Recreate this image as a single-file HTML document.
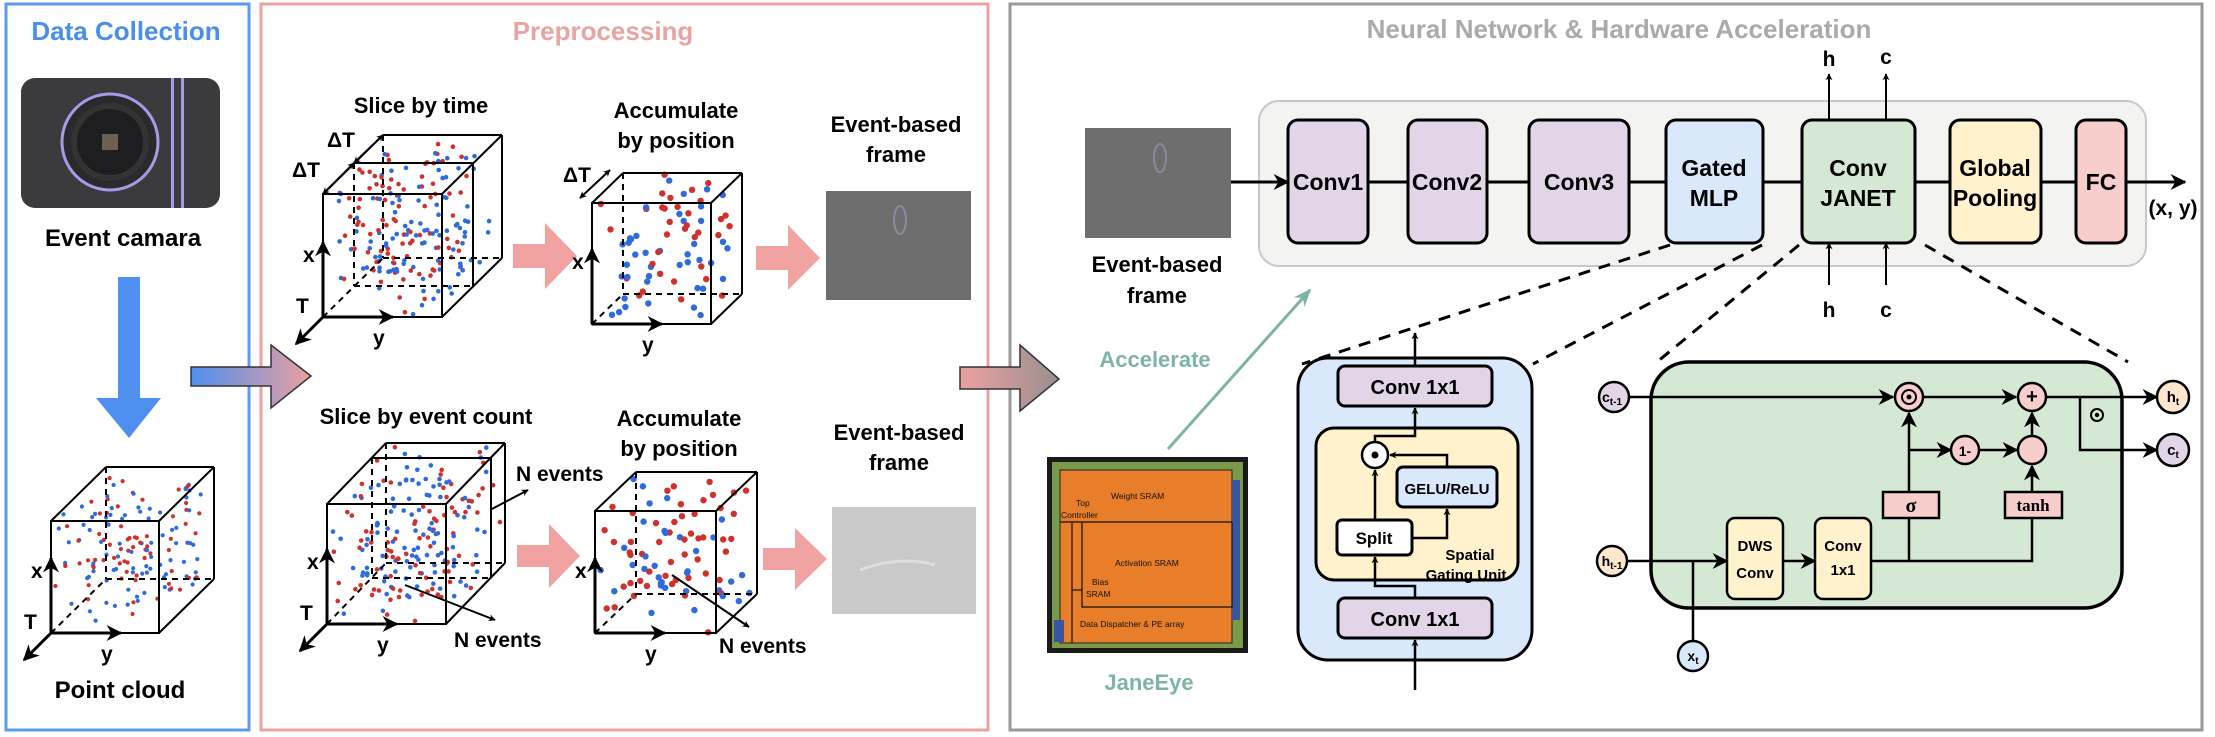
<!DOCTYPE html>
<html><head><meta charset="utf-8"><style>
html,body{margin:0;padding:0;background:#fff;}
svg{display:block;font-family:"Liberation Sans",sans-serif;font-weight:bold;}
</style></head><body>
<svg id="s" width="2215" height="737" viewBox="0 0 2215 737" xmlns="http://www.w3.org/2000/svg">
<defs>
<marker id="ah" viewBox="0 0 10 10" refX="9" refY="5" markerWidth="7" markerHeight="7" orient="auto-start-reverse" markerUnits="userSpaceOnUse"><path d="M0,0 L10,5 L0,10 L3,5 z" fill="#000"/></marker>
<marker id="ab" viewBox="0 0 10 10" refX="9" refY="5" markerWidth="16" markerHeight="16" orient="auto" markerUnits="userSpaceOnUse"><path d="M0,0 L10,5 L0,10 L3,5 z" fill="#000"/></marker>
<marker id="ag" viewBox="0 0 10 10" refX="9" refY="5" markerWidth="18" markerHeight="18" orient="auto" markerUnits="userSpaceOnUse"><path d="M0,1 L10,5 L0,9 L3,5 z" fill="#7fb3a8"/></marker>
<linearGradient id="g1" x1="0" x2="1"><stop offset="0" stop-color="#4f8ff0"/><stop offset="1" stop-color="#eaa0a0"/></linearGradient>
<linearGradient id="g2" x1="0" x2="1"><stop offset="0" stop-color="#eba1a1"/><stop offset="1" stop-color="#9a8f8f"/></linearGradient>
</defs>

<!-- panels -->
<rect x="6" y="4" width="243" height="726" fill="none" stroke="#5b9bef" stroke-width="3"/>
<rect x="261" y="4" width="727" height="726" fill="none" stroke="#eaa3a3" stroke-width="3"/>
<rect x="1010" y="4" width="1192" height="726" fill="none" stroke="#999" stroke-width="3"/>
<text x="126" y="40" font-size="26" fill="#4a8fe8" text-anchor="middle">Data Collection</text>
<text x="603" y="40" font-size="26" fill="#eaa3a3" text-anchor="middle">Preprocessing</text>
<text x="1619" y="38" font-size="26" fill="#aaa" text-anchor="middle">Neural Network &amp; Hardware Acceleration</text>

<!-- camera -->
<rect x="21" y="78" width="199" height="130" rx="14" fill="#3b3b3e"/>
<circle cx="110" cy="142" r="48" fill="#2a2a2c" stroke="#a79ae6" stroke-width="3"/>
<circle cx="110" cy="142" r="36" fill="#1e1e20" stroke="#333" stroke-width="6"/>
<rect x="102" y="134" width="16" height="16" fill="#6b6150"/>
<rect x="171" y="78" width="3" height="130" fill="#a79ae6"/>
<rect x="181" y="78" width="3" height="130" fill="#a79ae6"/>
<text x="123" y="246" font-size="24" text-anchor="middle">Event camara</text>
<!-- blue arrow -->
<path d="M118,277 H140 V398 H161 L129,438 L96,398 H118 Z" fill="#4f8ff0"/>
<text x="120" y="698" font-size="24" text-anchor="middle">Point cloud</text>

<!-- gradient arrows -->
<path d="M191,367 H271 V345 L311,376 L271,408 V386 H191 Z" fill="url(#g1)" stroke="#333" stroke-width="1.5"/>
<path d="M960,367 H1020 V345 L1059,379 L1020,411 V389 H960 Z" fill="url(#g2)" stroke="#333" stroke-width="1.5"/>

<!-- pink arrows -->
<g fill="#f0a3a0">
<path d="M513,244 H545 V223 L577,256 L545,289 V268 H513 Z"/>
<path d="M756,246 H788 V225 L820,258 L788,290 V270 H756 Z"/>
<path d="M517,545 H549 V524 L580,556 L549,588 V567 H517 Z"/>
<path d="M763,548 H795 V528 L827,559 L795,590 V570 H763 Z"/>
</g>

<g id="cubes"></g>

<g font-size="22" text-anchor="middle">
<text x="421" y="113">Slice by time</text>
<text x="676" y="118">Accumulate</text><text x="676" y="148">by position</text>
<text x="896" y="132">Event-based</text><text x="896" y="162">frame</text>
<text x="426" y="424">Slice by event count</text>
<text x="679" y="426">Accumulate</text><text x="679" y="456">by position</text>
<text x="899" y="440">Event-based</text><text x="899" y="470">frame</text>
</g>
<g font-size="21">
<text x="516" y="481">N events</text>
<text x="454" y="647">N events</text>
<text x="719" y="653">N events</text>
</g>
<rect x="826" y="191" width="145" height="109" fill="#6e6e6e"/>
<ellipse cx="900" cy="220" rx="6" ry="14" fill="none" stroke="#8a8aa0" stroke-width="2"/>
<rect x="832" y="507" width="144" height="107" fill="#c9c9c9"/>
<path d="M860,570 Q900,555 935,565" stroke="#ddd" stroke-width="3" fill="none"/>

<!-- NN section -->
<rect x="1259" y="101" width="887" height="165" rx="20" fill="#f3f4f2" stroke="#c8c8c8" stroke-width="2"/>
<rect x="1085" y="128" width="146" height="110" fill="#6e6e6e"/>
<ellipse cx="1160" cy="158" rx="6" ry="14" fill="none" stroke="#8a8aa0" stroke-width="2"/>
<g font-size="22" text-anchor="middle">
<text x="1157" y="272">Event-based</text><text x="1157" y="303">frame</text>
</g>
<line x1="1231" y1="182" x2="1288" y2="182" stroke="#000" stroke-width="3" marker-end="url(#ab)"/>
<line x1="1368" y1="182" x2="2185" y2="182" stroke="#000" stroke-width="3" marker-end="url(#ab)"/>
<g stroke="#000" stroke-width="3">
<rect x="1288" y="120" width="80" height="123" rx="10" fill="#e1d5e7"/>
<rect x="1408" y="120" width="79" height="123" rx="10" fill="#e1d5e7"/>
<rect x="1529" y="120" width="100" height="123" rx="10" fill="#e1d5e7"/>
<rect x="1666" y="120" width="97" height="123" rx="10" fill="#dae8fc"/>
<rect x="1802" y="120" width="113" height="123" rx="10" fill="#d5e8d4"/>
<rect x="1950" y="120" width="91" height="123" rx="10" fill="#fff2cc"/>
<rect x="2076" y="120" width="50" height="123" rx="10" fill="#f8cecc"/>
</g>
<g font-size="23" text-anchor="middle">
<text x="1328" y="190">Conv1</text>
<text x="1447" y="190">Conv2</text>
<text x="1579" y="190">Conv3</text>
<text x="1714" y="176">Gated</text><text x="1714" y="206">MLP</text>
<text x="1858" y="176">Conv</text><text x="1858" y="206">JANET</text>
<text x="1995" y="176">Global</text><text x="1995" y="206">Pooling</text>
<text x="2101" y="190">FC</text>
<text x="2173" y="215" font-size="21">(x, y)</text>
<text x="1829" y="66" font-size="21">h</text><text x="1886" y="64" font-size="21">c</text>
<text x="1829" y="317" font-size="21">h</text><text x="1886" y="317" font-size="21">c</text>
</g>
<g stroke="#000" stroke-width="2">
<line x1="1829" y1="120" x2="1829" y2="74" marker-end="url(#ah)"/>
<line x1="1886" y1="120" x2="1886" y2="74" marker-end="url(#ah)"/>
<line x1="1829" y1="285" x2="1829" y2="243" marker-end="url(#ah)"/>
<line x1="1886" y1="285" x2="1886" y2="243" marker-end="url(#ah)"/>
</g>
<g stroke="#000" stroke-width="3" stroke-dasharray="12,9">
<line x1="1670" y1="245" x2="1302" y2="364"/>
<line x1="1762" y1="245" x2="1533" y2="364"/>
<line x1="1799" y1="245" x2="1657" y2="362"/>
<line x1="1925" y1="245" x2="2128" y2="362"/>
</g>
<line x1="1168" y1="449" x2="1310" y2="290" stroke="#7fb3a8" stroke-width="3" marker-end="url(#ag)"/>
<text x="1155" y="367" font-size="22" fill="#7fb3a8" text-anchor="middle">Accelerate</text>

<!-- chip -->
<rect x="1047" y="457" width="201" height="196" fill="#1a1a1a"/>
<rect x="1052" y="462" width="191" height="186" fill="#7a9a4a"/>
<rect x="1060" y="470" width="172" height="173" fill="#e87e2a" stroke="#222" stroke-width="1"/>
<rect x="1232" y="480" width="8" height="140" fill="#3a55a0"/>
<rect x="1054" y="620" width="10" height="22" fill="#3a55a0"/>
<g stroke="#111" stroke-width="1.2" fill="none">
<line x1="1060" y1="522" x2="1232" y2="522"/>
<polyline points="1082,522 1082,607 1232,607 1232,522"/>
<polyline points="1072,522 1072,643"/>
<line x1="1072" y1="590" x2="1082" y2="590"/>
</g>
<g font-size="8.5" fill="#111" font-weight="normal">
<text x="1111" y="499">Weight SRAM</text>
<text x="1076" y="506">Top</text><text x="1061" y="518">Controller</text>
<text x="1115" y="566">Activation SRAM</text>
<text x="1092" y="585">Bias</text><text x="1086" y="597">SRAM</text>
<text x="1080" y="627">Data Dispatcher &amp; PE array</text>
</g>
<text x="1149" y="690" font-size="22" fill="#7fb3a8" text-anchor="middle">JaneEye</text>

<!-- Gated MLP detail -->
<rect x="1298" y="358" width="234" height="302" rx="30" fill="#dae8fc" stroke="#000" stroke-width="3"/>
<g stroke="#000" stroke-width="2.5" fill="none">
<line x1="1415" y1="366" x2="1415" y2="333" marker-end="url(#ah)"/>
<line x1="1415" y1="690" x2="1415" y2="640" marker-end="url(#ah)"/>
</g>
<rect x="1338" y="366" width="154" height="40" rx="7" fill="#e1d5e7" stroke="#000" stroke-width="3"/>
<rect x="1316" y="428" width="202" height="152" rx="18" fill="#fff2cc" stroke="#000" stroke-width="3"/>
<rect x="1338" y="598" width="154" height="40" rx="7" fill="#e1d5e7" stroke="#000" stroke-width="3"/>
<g stroke="#000" stroke-width="2.5" fill="none">
<polyline points="1375,442 1375,436 1415,436 1415,408" marker-end="url(#ah)"/>
<polyline points="1415,598 1415,586 1375,586 1375,557" marker-end="url(#ah)"/>
<line x1="1375" y1="520" x2="1375" y2="470" marker-end="url(#ah)"/>
<polyline points="1412,538 1447,538 1447,509" marker-end="url(#ah)"/>
<polyline points="1447,467 1447,455 1390,455" marker-end="url(#ah)"/>
</g>
<circle cx="1375" cy="455" r="13" fill="#fff" stroke="#000" stroke-width="2.5"/>
<circle cx="1375" cy="455" r="3.5" fill="#000"/>
<rect x="1397" y="467" width="100" height="40" rx="6" fill="#dae8fc" stroke="#000" stroke-width="3"/>
<rect x="1337" y="520" width="75" height="35" rx="5" fill="#fff" stroke="#000" stroke-width="3"/>
<g text-anchor="middle">
<text x="1415" y="394" font-size="20">Conv 1x1</text>
<text x="1415" y="626" font-size="20">Conv 1x1</text>
<text x="1447" y="494" font-size="15">GELU/ReLU</text>
<text x="1374" y="544" font-size="17">Split</text>
<text x="1470" y="560" font-size="15">Spatial</text>
<text x="1466" y="580" font-size="15">Gating Unit</text>
</g>

<!-- JANET detail -->
<rect x="1651" y="362" width="471" height="246" rx="38" fill="#d5e8d4" stroke="#000" stroke-width="3.5"/>
<g stroke="#000" stroke-width="2.5" fill="none">
<line x1="1629" y1="397" x2="1893" y2="397" marker-end="url(#ab)"/>
<line x1="1924" y1="397" x2="2016" y2="397" marker-end="url(#ab)"/>
<line x1="2047" y1="397" x2="2157" y2="397" marker-end="url(#ab)"/>
<polyline points="2080,397 2080,450 2157,450" marker-end="url(#ab)"/>
<line x1="1909" y1="492" x2="1909" y2="413" marker-end="url(#ab)"/>
<line x1="1909" y1="450" x2="1951" y2="450" marker-end="url(#ab)"/>
<line x1="1979" y1="450" x2="2017" y2="450" marker-end="url(#ab)"/>
<line x1="2032" y1="492" x2="2032" y2="466" marker-end="url(#ab)"/>
<line x1="2032" y1="435" x2="2032" y2="413" marker-end="url(#ab)"/>
<line x1="1627" y1="561" x2="1727" y2="561" marker-end="url(#ab)"/>
<line x1="1693" y1="641" x2="1693" y2="561"/>
<line x1="1783" y1="561" x2="1815" y2="561" marker-end="url(#ab)"/>
<polyline points="1871,561 2032,561 2032,518"/>
<line x1="1909" y1="561" x2="1909" y2="518"/>
</g>
<g stroke="#000" stroke-width="2.5">
<circle cx="1614" cy="397" r="15" fill="#e1d5e7"/>
<circle cx="1612" cy="561" r="15" fill="#ffe6cc"/>
<circle cx="1693" cy="656" r="15" fill="#dae8fc"/>
<circle cx="2173" cy="397" r="16" fill="#ffe6cc"/>
<circle cx="2173" cy="450" r="16" fill="#e1d5e7"/>
<circle cx="1909" cy="397" r="14" fill="#f8cecc"/>
<circle cx="2032" cy="397" r="14" fill="#f8cecc"/>
<circle cx="1965" cy="450" r="14" fill="#f8cecc"/>
<circle cx="2032" cy="450" r="14" fill="#f8cecc"/>
<rect x="1883" y="492" width="56" height="26" fill="#f8cecc"/>
<rect x="2005" y="492" width="57" height="26" fill="#f8cecc"/>
<rect x="1727" y="518" width="56" height="81" rx="8" fill="#fff2cc"/>
<rect x="1815" y="518" width="56" height="81" rx="8" fill="#fff2cc"/>
</g>
<circle cx="1909" cy="397" r="7" fill="none" stroke="#000" stroke-width="2"/><circle cx="1909" cy="397" r="2.5"/>
<circle cx="2097" cy="415" r="6" fill="none" stroke="#000" stroke-width="2"/><circle cx="2097" cy="415" r="2.2"/>
<g text-anchor="middle" font-size="16">
<text x="2032" y="403" font-size="20">+</text>
<text x="1965" y="456" font-size="14">1-</text>
<text x="1911" y="512" font-family="Liberation Serif" font-size="20">σ</text>
<text x="2033" y="511" font-family="Liberation Serif" font-size="17">tanh</text>
<text x="1755" y="551" font-size="15">DWS</text><text x="1755" y="578" font-size="15">Conv</text>
<text x="1843" y="551" font-size="15">Conv</text><text x="1843" y="575" font-size="15">1x1</text>
<text x="1612" y="402" font-size="14">c<tspan font-size="10" dy="3">t-1</tspan></text>
<text x="1612" y="566" font-size="14">h<tspan font-size="10" dy="3">t-1</tspan></text>
<text x="1693" y="661" font-size="14">x<tspan font-size="10" dy="3">t</tspan></text>
<text x="2173" y="402" font-size="15">h<tspan font-size="10" dy="3">t</tspan></text>
<text x="2173" y="455" font-size="15">c<tspan font-size="10" dy="3">t</tspan></text>
</g>
</svg>
<script>
(function(){
var NS="http://www.w3.org/2000/svg",g=document.getElementById("cubes");
var seed=7;function r(){seed=(seed*16807)%2147483647;return seed/2147483647;}
function el(t,a){var e=document.createElementNS(NS,t);for(var k in a)e.setAttribute(k,a[k]);g.appendChild(e);return e;}
function ln(x1,y1,x2,y2,dash,w){el("line",{x1:x1,y1:y1,x2:x2,y2:y2,stroke:"#000","stroke-width":w||2,"stroke-dasharray":dash?"6,5":"none"});}
function cube(x1,y1,x2,y2,dx,dy,n,mid,rad){
 // dots
 for(var i=0;i<n;i++){var t=r(),u=r(),v=r();
  var px=x1+u*(x2-x1)+t*dx, py=y1+v*(y2-y1)+t*dy;
  el("circle",{cx:px.toFixed(1),cy:py.toFixed(1),r:rad||2.3,fill:r()<0.5?"#d0312d":"#2f6bdc"});}
 // hidden
 ln(x1,y2,x1+dx,y2+dy,1);ln(x1+dx,y1+dy,x1+dx,y2+dy,1);ln(x1+dx,y2+dy,x2+dx,y2+dy,1);
 // visible
 el("rect",{x:x1,y:y1,width:x2-x1,height:y2-y1,fill:"none",stroke:"#000","stroke-width":2});
 ln(x1,y1,x1+dx,y1+dy);ln(x2,y1,x2+dx,y1+dy);ln(x2,y2,x2+dx,y2+dy);
 ln(x1+dx,y1+dy,x2+dx,y1+dy);ln(x2+dx,y1+dy,x2+dx,y2+dy);
 if(mid){var mx=mid[0],my=mid[1];el("polyline",{points:(x1+mx)+","+(y1+my)+" "+(x2+mx)+","+(y1+my)+" "+(x2+mx)+","+(y2+my),fill:"none",stroke:"#000","stroke-width":2});
  ln(x1+mx,y1+my,x1+mx,y2+my,1);ln(x1+mx,y2+my,x2+mx,y2+my,1);}
}
function axes(ox,oy,xl,yl,tl){
 el("line",{x1:ox,y1:oy,x2:ox,y2:oy-75,stroke:"#000","stroke-width":3,"marker-end":"url(#ab)"});
 el("line",{x1:ox,y1:oy,x2:ox+70,y2:oy,stroke:"#000","stroke-width":3,"marker-end":"url(#ab)"});
 if(tl)el("line",{x1:ox,y1:oy,x2:ox-27,y2:oy+27,stroke:"#000","stroke-width":3,"marker-end":"url(#ab)"});
 var t;
 t=el("text",{x:ox-20,y:oy-55,"font-size":21});t.textContent="x";
 t=el("text",{x:ox+50,y:oy+28,"font-size":21});t.textContent="y";
 if(tl){t=el("text",{x:ox-27,y:oy-4,"font-size":21});t.textContent="T";}
}
cube(51,521,159,633,55,-54,150,null,2.1); axes(51,633,1,1,1);
cube(323,194,442,317,60,-59,190,[31,-31],2.3); axes(323,317,1,1,1);
cube(592,203,711,324,31,-30,75,null,3.2); axes(592,324,1,1,0);
cube(327,504,446,624,59,-61,190,[45,-46],2.3); axes(327,624,1,1,1);
cube(595,511,716,633,41,-39,85,null,3.2); axes(595,633,1,1,0);
// delta T arrows
function dbl(x1,y1,x2,y2){el("line",{x1:x1,y1:y1,x2:x2,y2:y2,stroke:"#000","stroke-width":2,"marker-start":"url(#ah)","marker-end":"url(#ah)"});}
dbl(323,194,354,163);dbl(354,163,383,135);dbl(580,198,610,170);
var lab=[[327,147],[292,177],[563,182]];lab.forEach(function(p){var t=el("text",{x:p[0],y:p[1],"font-size":21});t.textContent="ΔT";});
// N events arrows
el("line",{x1:490,y1:510,x2:528,y2:490,stroke:"#000","stroke-width":2,"marker-end":"url(#ah)"});
el("line",{x1:405,y1:585,x2:495,y2:620,stroke:"#000","stroke-width":2,"marker-end":"url(#ah)"});
el("line",{x1:672,y1:575,x2:749,y2:627,stroke:"#000","stroke-width":2,"marker-end":"url(#ah)"});
})();
</script>
</body></html>
